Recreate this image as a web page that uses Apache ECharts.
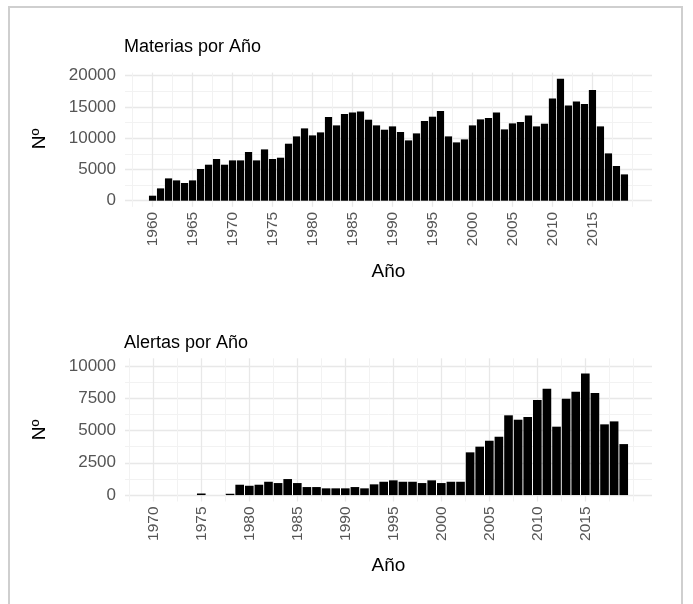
<!DOCTYPE html>
<html>
<head>
<meta charset="utf-8">
<script src="https://cdn.jsdelivr.net/npm/echarts@6/dist/echarts.min.js"></script>
<style>
html, body {margin:0; padding:0; background:#fff;}
#main {width:693px; height:604px;}
</style>
</head>
<body>
<div id="main"></div>
<script>
// Materias por año
let materiasYears = [1960,1961,1962,1963,1964,1965,1966,1967,1968,1969,
    1970,1971,1972,1973,1974,1975,1976,1977,1978,1979,
    1980,1981,1982,1983,1984,1985,1986,1987,1988,1989,
    1990,1991,1992,1993,1994,1995,1996,1997,1998,1999,
    2000,2001,2002,2003,2004,2005,2006,2007,2008,2009,
    2010,2011,2012,2013,2014,2015,2016,2017,2018,2019];
let materiasValues = [800,1970,3570,3250,2830,3250,5070,5760,6670,5760,
    6450,6450,7790,6450,8210,6670,6880,9120,10290,11570,
    10450,10930,13390,12050,13870,14130,14290,12960,12050,11360,
    11890,10990,9650,10770,12750,13440,14350,10290,9330,9810,
    12050,13010,13230,14130,11410,12370,12590,13650,11890,12320,
    16370,19520,15250,15890,15470,17710,11890,7570,5550,4210];

// Alertas por año
let alertasYears = [1970,1975,1978,1979,
    1980,1981,1982,1983,1984,1985,1986,1987,1988,1989,
    1990,1991,1992,1993,1994,1995,1996,1997,1998,1999,
    2000,2001,2002,2003,2004,2005,2006,2007,2008,2009,
    2010,2011,2012,2013,2014,2015,2016,2017,2018,2019];
let alertasValues = [0,120,100,800,
    720,800,1030,930,1240,930,620,620,520,520,
    520,620,520,830,1030,1140,1030,1030,930,1140,
    930,1030,1030,3310,3750,4210,4520,6180,5840,6050,
    7360,8240,5300,7470,8010,9430,7910,5480,5710,3950];

// tick labels
let materiasXTicks = [1960,1965,1970,1975,1980,1985,1990,1995,2000,2005,2010,2015];
let materiasXMinor = [1957.5,1962.5,1967.5,1972.5,1977.5,1982.5,1987.5,1992.5,1997.5,2002.5,2007.5,2012.5,2017.5,2020];
let materiasYTicks = [0,5000,10000,15000,20000];
let materiasYMinor = [2500,7500,12500,17500];

let alertasXTicks = [1970,1975,1980,1985,1990,1995,2000,2005,2010,2015];
let alertasXMinor = [1967.5,1972.5,1977.5,1982.5,1987.5,1992.5,1997.5,2002.5,2007.5,2012.5,2017.5,2020];
let alertasYTicks = [0,2500,5000,7500,10000];
let alertasYMinor = [1250,3750,6250,8750];

const FONT = 'Liberation Sans';
const GRID_W = 527;

function pairs(xs, ys){
    let out = [];
    for (let i = 0; i < xs.length; i++){
        out.push([xs[i], ys[i]]);
    }
    return out;
}

// ggplot style range: data extent (bar width 0.9) padded by 5%
function xRange(years){
    let lo = Math.min(...years) - 0.45;
    let hi = Math.max(...years) + 0.45;
    let pad = (hi - lo) * 0.05;
    return [lo - pad, hi + pad];
}

function plain(v){
    return String(v);
}

function majorX(grid, range, ticks){
    return {
        gridIndex: grid, type: 'value', position: 'bottom', min: range[0], max: range[1],
        axisLine: {show: false},
        axisTick: {show: false, customValues: ticks},
        axisLabel: {customValues: ticks, formatter: plain, rotate: 90, margin: 5, color: '#555', fontSize: 15.5, fontFamily: FONT},
        splitLine: {show: true, lineStyle: {color: '#e8e8e8', width: 1.3}},
        name: 'Año', nameLocation: 'middle', nameGap: 55,
        nameTextStyle: {color: '#000', fontSize: 19, fontFamily: FONT}
    };
}

function minorX(grid, range, ticks){
    return {
        gridIndex: grid, type: 'value', position: 'bottom', min: range[0], max: range[1],
        axisLine: {show: false},
        axisTick: {show: false, customValues: ticks},
        axisLabel: {show: false},
        splitLine: {show: true, lineStyle: {color: '#f2f2f2', width: 1}}
    };
}

function majorY(grid, lo, hi, ticks){
    return {
        gridIndex: grid, type: 'value', position: 'left', min: lo, max: hi,
        axisLine: {show: false},
        axisTick: {show: false, customValues: ticks},
        axisLabel: {customValues: ticks, formatter: plain, margin: 9, color: '#555', fontSize: 17, fontFamily: FONT},
        splitLine: {show: true, lineStyle: {color: '#e8e8e8', width: 1.3}}
    };
}

function minorY(grid, lo, hi, ticks){
    return {
        gridIndex: grid, type: 'value', position: 'left', min: lo, max: hi,
        axisLine: {show: false},
        axisTick: {show: false, customValues: ticks},
        axisLabel: {show: false},
        splitLine: {show: true, lineStyle: {color: '#f2f2f2', width: 1}}
    };
}

// rotated y axis title
function yTitle(cy){
    return {
        type: 'text', x: 40, y: cy, rotation: Math.PI / 2, silent: true,
        style: {text: 'Nº', fill: '#000', fontSize: 19, fontFamily: FONT, align: 'center', verticalAlign: 'middle'}
    };
}

let mRange = xRange(materiasYears);
let aRange = xRange(alertasYears);
let mMax = Math.max(...materiasValues);

let option = {
    animation: false,
    backgroundColor: '#fff',
    textStyle: {fontFamily: FONT},
    title: [
        {text: 'Materias por Año', left: 124, top: 38, textStyle: {color: '#000', fontSize: 18, fontWeight: 'normal', fontFamily: FONT}, padding: 0},
        {text: 'Alertas por Año', left: 124, top: 334, textStyle: {color: '#000', fontSize: 18, fontWeight: 'normal', fontFamily: FONT}, padding: 0}
    ],
    graphic: [
        {
            type: 'rect', silent: true, z: -1,
            shape: {x: 9, y: 7, width: 673, height: 640},
            style: {fill: 'none', stroke: '#cfcfcf', lineWidth: 2}
        },
        yTitle(139),
        yTitle(430)
    ],
    grid: [
        {left: 125, width: GRID_W, top: 72.6, height: 134.2, outerBoundsMode: 'none'},
        {left: 125, width: GRID_W, top: 358.3, height: 143.2, outerBoundsMode: 'none'}
    ],
    xAxis: [
        minorX(0, mRange, materiasXMinor),
        majorX(0, mRange, materiasXTicks),
        minorX(1, aRange, alertasXMinor),
        majorX(1, aRange, alertasXTicks)
    ],
    yAxis: [
        minorY(0, -0.05 * mMax, 1.05 * mMax, materiasYMinor),
        majorY(0, -0.05 * mMax, 1.05 * mMax, materiasYTicks),
        minorY(1, -500, 10600, alertasYMinor),
        majorY(1, -500, 10600, alertasYTicks)
    ],
    series: [
        {
            type: 'bar', name: 'Materias', xAxisIndex: 1, yAxisIndex: 1,
            data: pairs(materiasYears, materiasValues),
            barWidth: GRID_W / (mRange[1] - mRange[0]) * 0.9,
            itemStyle: {color: '#000'}
        },
        {
            type: 'bar', name: 'Alertas', xAxisIndex: 3, yAxisIndex: 3,
            data: pairs(alertasYears, alertasValues),
            barWidth: GRID_W / (aRange[1] - aRange[0]) * 0.9,
            itemStyle: {color: '#000'}
        }
    ]
};

var chart = echarts.init(document.getElementById('main'));
chart.setOption(option);
</script>
</body>
</html>
